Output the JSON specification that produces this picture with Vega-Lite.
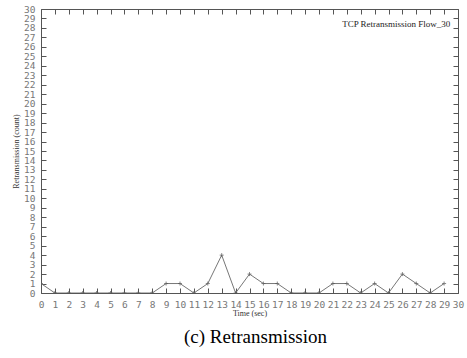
{
  "$schema": "https://vega.github.io/schema/vega-lite/v6.json",
  "width": 417,
  "height": 284,
  "autosize": {"type": "none"},
  "padding": {"left": 41, "top": 9, "right": 9, "bottom": 65},
  "background": "white",
  "title": {
    "text": "(c) Retransmission",
    "orient": "bottom",
    "anchor": "middle",
    "font": "Liberation Serif",
    "fontSize": 19,
    "fontWeight": "normal",
    "color": "#000000",
    "offset": 10,
    "dx": 6
  },
  "config": {
    "view": {"stroke": "#555555", "strokeWidth": 1},
    "axis": {
      "domain": false,
      "grid": false,
      "tickColor": "#555555",
      "tickSize": -5,
      "labelFont": "DejaVu Sans Mono",
      "labelFontSize": 9.5,
      "labelColor": "#777777",
      "titleFont": "Liberation Serif",
      "titleFontSize": 8,
      "titleFontWeight": "normal",
      "titleColor": "#333333"
    }
  },
  "data": {
    "values": [
      {"t": 0, "count": 1}, {"t": 1, "count": 0}, {"t": 2, "count": 0},
      {"t": 3, "count": 0}, {"t": 4, "count": 0}, {"t": 5, "count": 0},
      {"t": 6, "count": 0}, {"t": 7, "count": 0}, {"t": 8, "count": 0},
      {"t": 9, "count": 1}, {"t": 10, "count": 1}, {"t": 11, "count": 0},
      {"t": 12, "count": 1}, {"t": 13, "count": 4}, {"t": 14, "count": 0},
      {"t": 15, "count": 2}, {"t": 16, "count": 1}, {"t": 17, "count": 1},
      {"t": 18, "count": 0}, {"t": 19, "count": 0}, {"t": 20, "count": 0},
      {"t": 21, "count": 1}, {"t": 22, "count": 1}, {"t": 23, "count": 0},
      {"t": 24, "count": 1}, {"t": 25, "count": 0}, {"t": 26, "count": 2},
      {"t": 27, "count": 1}, {"t": 28, "count": 0}, {"t": 29, "count": 1}
    ]
  },
  "layer": [
    {
      "mark": {"type": "line", "color": "#777777", "strokeWidth": 1, "clip": true},
      "encoding": {
        "x": {
          "field": "t", "type": "quantitative",
          "scale": {"domain": [0, 30], "nice": false, "zero": false},
          "axis": {"title": "Time (sec)", "values": [0,1,2,3,4,5,6,7,8,9,10,11,12,13,14,15,16,17,18,19,20,21,22,23,24,25,26,27,28,29,30], "labelPadding": 11, "titlePadding": 1, "labelFlush": false, "labelOverlap": false}
        },
        "y": {
          "field": "count", "type": "quantitative",
          "scale": {"domain": [0, 30], "nice": false},
          "axis": {"title": "Retransmission (count)", "values": [0,1,2,3,4,5,6,7,8,9,10,11,12,13,14,15,16,17,18,19,20,21,22,23,24,25,26,27,28,29,30], "labelPadding": 11, "titlePadding": 3, "labelFlush": false, "labelOverlap": false}
        }
      }
    },
    {
      "mark": {"type": "point", "shape": "M-1,0L1,0M0,-1L0,1", "size": 16, "filled": false, "stroke": "#555555", "strokeWidth": 1, "clip": true},
      "encoding": {
        "x": {"field": "t", "type": "quantitative", "axis": {"orient": "top", "labels": false, "title": null, "values": [0,1,2,3,4,5,6,7,8,9,10,11,12,13,14,15,16,17,18,19,20,21,22,23,24,25,26,27,28,29,30]}},
        "y": {"field": "count", "type": "quantitative", "axis": {"orient": "right", "labels": false, "title": null, "values": [0,1,2,3,4,5,6,7,8,9,10,11,12,13,14,15,16,17,18,19,20,21,22,23,24,25,26,27,28,29,30]}}
      }
    },
    {
      "data": {"values": [{"series": "TCP Retransmission Flow_30"}]},
      "mark": {"type": "text", "align": "right", "baseline": "middle", "font": "Liberation Serif", "fontSize": 9, "color": "#222222"},
      "encoding": {
        "text": {"field": "series"},
        "x": {"datum": 29.45, "type": "quantitative", "axis": null},
        "y": {"datum": 28.4, "type": "quantitative", "axis": null}
      }
    }
  ],
  "resolve": {"axis": {"x": "independent", "y": "independent"}}
}
